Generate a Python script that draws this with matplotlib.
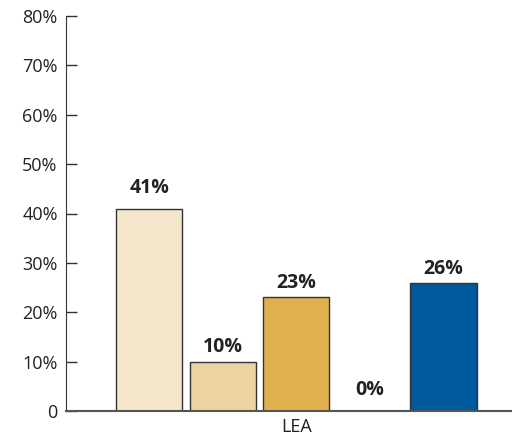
import matplotlib.pyplot as plt

values = [41, 10, 23, 0, 26]
value_labels = ["41%", "10%", "23%", "0%", "26%"]
bar_colors = ["#F5E7CB", "#EDD3A1", "#E0B04F", "#B0B0B0", "#00599C"]
group_label = "LEA"
y_ticks = [0, 10, 20, 30, 40, 50, 60, 70, 80]
y_tick_labels = ["0", "10%", "20%", "30%", "40%", "50%", "60%", "70%", "80%"]
label_gap = [11.5, 7, 7, 11.5, 6]  # points between bar top and label baseline

plt.rcParams['font.family'] = ['Open Sans', 'DejaVu Sans']

fig = plt.figure(figsize=(5.12, 4.38), dpi=100)
ax = fig.add_axes([66 / 512, 27 / 438, 1 - 66 / 512, (411 - 16) / 438])

xs = list(range(len(values)))
ax.bar(xs, values, width=0.9, color=bar_colors, edgecolor="#333333", linewidth=1)

for x, v, lab, gap in zip(xs, values, value_labels, label_gap):
    ax.annotate(lab, (x, v), xytext=(0, gap), textcoords="offset points",
                ha="center", va="baseline", fontsize=14, fontweight="bold", color="#222222")

ax.set_xlim(-1.13, 4.93)
ax.set_ylim(0, 80)
ax.set_yticks(y_ticks)
ax.set_yticklabels(y_tick_labels, fontsize=13, color="#222222")
ax.set_xticks([2])
ax.set_xticklabels([group_label], fontsize=13, color="#222222")
ax.tick_params(axis="x", length=0, pad=5)
ax.tick_params(axis="y", direction="in", length=8, width=1, color="#333333", pad=6)

for side in ["top", "right"]:
    ax.spines[side].set_visible(False)
ax.spines["left"].set_color("#333333")
ax.spines["bottom"].set_color("#555555")
ax.spines["bottom"].set_linewidth(1.5)

fig.savefig("out.png", dpi=100)
